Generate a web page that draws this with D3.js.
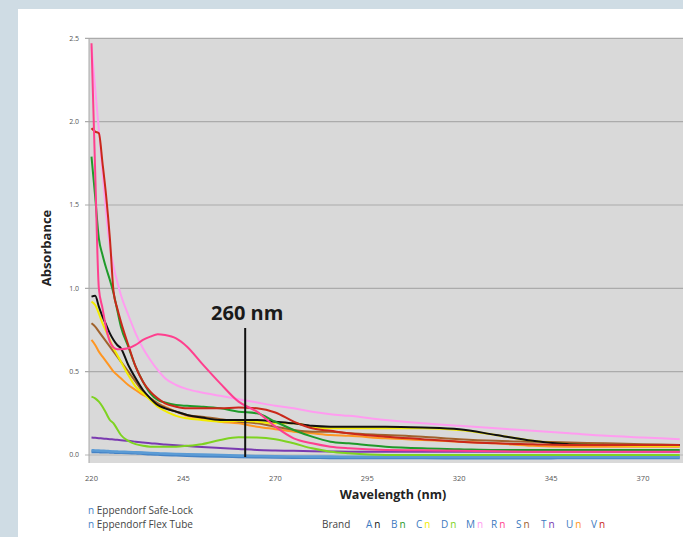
<!DOCTYPE html>
<html><head><meta charset="utf-8">
<script src="https://cdn.jsdelivr.net/npm/d3@7"></script>
<style>
html,body{margin:0;padding:0;background:#cfdce4;}
svg{display:block;}
</style></head>
<body>
<svg id="c" width="683" height="537"></svg>
<script>
// ---- data ----
const wavelengths = [220,221,222,223,224,225,226,227,228,230,232,234,236,238,240,243,246,250,255,260,265,270,275,280,285,290,300,310,320,330,340,350,360,370,380];
const safeLock  = [0.02,0.02,0.019,0.018,0.018,0.017,0.016,0.015,0.015,0.014,0.012,0.009,0.006,0.004,0.002,0.0,-0.003,-0.006,-0.008,-0.01,-0.012,-0.014,-0.015,-0.015,-0.016,-0.016,-0.016,-0.017,-0.018,-0.018,-0.018,-0.017,-0.017,-0.016,-0.016];
const flexTube  = [0.028,0.027,0.026,0.025,0.024,0.022,0.021,0.02,0.019,0.018,0.016,0.014,0.012,0.01,0.008,0.006,0.004,0.002,0.0,-0.004,-0.006,-0.008,-0.009,-0.01,-0.01,-0.011,-0.011,-0.012,-0.012,-0.012,-0.012,-0.012,-0.012,-0.012,-0.012];
const brandA = [0.95,0.955,0.89,0.83,0.78,0.73,0.69,0.66,0.64,0.54,0.46,0.39,0.34,0.3,0.28,0.26,0.24,0.225,0.21,0.21,0.21,0.2,0.19,0.175,0.17,0.17,0.17,0.165,0.155,0.12,0.085,0.065,0.06,0.06,0.06];
const brandB = [1.79,1.55,1.3,1.2,1.12,1.05,0.97,0.87,0.77,0.65,0.53,0.44,0.37,0.33,0.315,0.3,0.295,0.29,0.28,0.26,0.25,0.2,0.15,0.11,0.08,0.07,0.05,0.04,0.035,0.03,0.03,0.03,0.03,0.03,0.03];
const brandC = [0.92,0.9,0.85,0.79,0.74,0.69,0.64,0.6,0.56,0.48,0.41,0.37,0.33,0.29,0.265,0.235,0.22,0.21,0.2,0.205,0.2,0.19,0.19,0.17,0.16,0.16,0.16,0.16,0.15,0.12,0.085,0.065,0.06,0.055,0.055];
const brandD = [0.35,0.34,0.32,0.29,0.25,0.21,0.19,0.155,0.12,0.085,0.065,0.055,0.05,0.05,0.05,0.05,0.055,0.065,0.09,0.106,0.105,0.095,0.07,0.04,0.02,0.01,0.0,0.0,0.0,0.0,0.0,0.0,0.0,0.0,0.0];
const brandM = [2.45,2.2,1.95,1.7,1.45,1.25,1.13,1.04,0.96,0.84,0.73,0.64,0.57,0.51,0.46,0.42,0.395,0.375,0.355,0.335,0.315,0.295,0.28,0.26,0.245,0.235,0.21,0.19,0.175,0.16,0.145,0.13,0.115,0.105,0.095];
const brandR = [2.47,1.7,1.0,0.88,0.76,0.68,0.645,0.635,0.635,0.64,0.66,0.69,0.71,0.725,0.72,0.70,0.65,0.55,0.43,0.32,0.26,0.17,0.10,0.07,0.05,0.04,0.03,0.028,0.025,0.022,0.02,0.02,0.02,0.02,0.02];
const brandS = [0.79,0.77,0.74,0.71,0.68,0.65,0.62,0.59,0.56,0.5,0.44,0.38,0.34,0.31,0.285,0.26,0.24,0.23,0.215,0.2,0.19,0.17,0.15,0.14,0.14,0.13,0.12,0.11,0.095,0.085,0.08,0.075,0.07,0.065,0.06];
const brandT = [0.105,0.103,0.101,0.099,0.097,0.095,0.093,0.091,0.089,0.085,0.08,0.075,0.07,0.067,0.063,0.058,0.054,0.048,0.042,0.036,0.03,0.027,0.025,0.022,0.021,0.02,0.02,0.02,0.02,0.02,0.02,0.02,0.02,0.02,0.02];
const brandU = [0.69,0.66,0.62,0.59,0.56,0.53,0.5,0.48,0.46,0.42,0.39,0.36,0.34,0.31,0.29,0.26,0.235,0.22,0.2,0.19,0.17,0.155,0.14,0.13,0.12,0.115,0.1,0.09,0.08,0.07,0.055,0.05,0.05,0.05,0.05];
const brandV = [1.96,1.94,1.93,1.75,1.55,1.3,0.98,0.88,0.8,0.66,0.53,0.44,0.38,0.34,0.31,0.29,0.28,0.28,0.28,0.285,0.28,0.255,0.2,0.16,0.145,0.13,0.11,0.095,0.08,0.07,0.065,0.06,0.06,0.06,0.06];

const xTicks = [220,245,270,295,320,345,370];
const yTicks = [0,0.5,1.0,1.5,2.0,2.5];
const brandNames = ["A","B","C","D","M","R","S","T","U","V"];
const brandColors = ["#111111","#1f9a2a","#f2ec00","#7ed321","#ff9cf0","#ff3f8e","#a0622d","#7a3ab0","#ff9622","#c9281a"];
const eppNames = ["Eppendorf Safe-Lock","Eppendorf Flex Tube"];
const eppColors = ["#4583c6","#5b9bd5"];
const annotationNm = 261.8;
const annotationText = "260 nm";

// draw order (back to front)
const seriesList = [
  {v:safeLock, c:eppColors[0], w:3},
  {v:flexTube, c:eppColors[1], w:2.6},
  {v:brandT, c:brandColors[7], w:2},
  {v:brandD, c:brandColors[3], w:2},
  {v:brandU, c:brandColors[8], w:2},
  {v:brandS, c:brandColors[6], w:2},
  {v:brandC, c:brandColors[2], w:2},
  {v:brandA, c:brandColors[0], w:2},
  {v:brandB, c:brandColors[1], w:2},
  {v:brandM, c:brandColors[4], w:2},
  {v:brandV, c:brandColors[9], w:2},
  {v:brandR, c:brandColors[5], w:2}
];

// ---- layout ----
const svg = d3.select("#c");
const FONT = "'Open Sans', 'Noto Sans', sans-serif";
const plotL = 89, plotR = 683, plotT = 38, plotB = 463;

svg.append("rect").attr("x",0).attr("y",0).attr("width",683).attr("height",537).attr("fill","#cfdce4");
svg.append("rect").attr("x",18).attr("y",9).attr("width",665).attr("height",528).attr("fill","#ffffff");

const x = d3.scaleLinear().domain([220,370]).range([91.5,643]);
const y = d3.scaleLinear().domain([0,2.5]).range([455,38.3]);

svg.append("rect").attr("x",plotL).attr("y",plotT).attr("width",plotR-plotL).attr("height",plotB-plotT).attr("fill","#d9d9d9");

// gridlines
svg.append("g").selectAll("line").data(yTicks).join("line")
  .attr("x1",plotL-4).attr("x2",plotR)
  .attr("y1",d=>y(d)).attr("y2",d=>y(d))
  .attr("stroke",d=>d===0?"#b8b8b8":"#ababab").attr("stroke-width",1.2);

// left axis line
svg.append("line").attr("x1",plotL).attr("x2",plotL).attr("y1",plotT).attr("y2",plotB)
  .attr("stroke","#a8a8a8").attr("stroke-width",1);

// y tick labels
svg.append("g").selectAll("text").data(yTicks).join("text")
  .attr("x",79).attr("y",d=>y(d)).attr("dy","0.35em")
  .attr("text-anchor","end").attr("font-family",FONT).attr("font-size",7)
  .attr("fill","#555").text(d=>d3.format(".1f")(d));

// x tick labels
svg.append("g").selectAll("text").data(xTicks).join("text")
  .attr("x",d=>x(d)).attr("y",478).attr("dy","0.35em")
  .attr("text-anchor","middle").attr("font-family",FONT).attr("font-size",7.5)
  .attr("fill","#555").text(d=>d);

// clip
svg.append("clipPath").attr("id","clip").append("rect")
  .attr("x",plotL+1).attr("y",plotT-6).attr("width",plotR-plotL).attr("height",plotB-plotT+6);

const line = d3.line().x((d,i)=>x(wavelengths[i])).y(d=>y(d)).curve(d3.curveMonotoneX);
const gl = svg.append("g").attr("clip-path","url(#clip)");
gl.selectAll("path").data(seriesList).join("path")
  .attr("d",d=>line(d.v)).attr("fill","none")
  .attr("stroke",d=>d.c).attr("stroke-width",d=>d.w)
  .attr("stroke-linejoin","round");

// annotation
svg.append("line").attr("x1",x(annotationNm)).attr("x2",x(annotationNm))
  .attr("y1",328).attr("y2",457).attr("stroke","#111").attr("stroke-width",2);
svg.append("text").attr("x",x(annotationNm)+2).attr("y",320).attr("text-anchor","middle")
  .attr("font-family",FONT).attr("font-weight","bold").attr("font-size",20).attr("fill","#1a1a1a")
  .text(annotationText);

// axis titles
svg.append("text").attr("transform","translate(51,248) rotate(-90)").attr("text-anchor","middle")
  .attr("font-family",FONT).attr("font-weight","bold").attr("font-size",13).attr("fill","#222")
  .text("Absorbance");
svg.append("text").attr("x",393).attr("y",499).attr("text-anchor","middle")
  .attr("font-family",FONT).attr("font-weight","bold").attr("font-size",12.5).attr("fill","#222")
  .text("Wavelength (nm)");

// Eppendorf legend
const eg = svg.append("g");
eppNames.forEach((nm,i)=>{
  const t = eg.append("text").attr("x",88).attr("y",514+i*14)
    .attr("font-family",FONT).attr("font-size",10).attr("fill","#444");
  t.append("tspan").attr("fill",eppColors[0]).text("n");
  t.append("tspan").text(" "+nm);
});

// Brand legend
const bg = svg.append("g");
bg.append("text").attr("x",322).attr("y",528).attr("font-family",FONT).attr("font-size",10)
  .attr("fill","#444").text("Brand");
brandNames.forEach((b,i)=>{
  const t = bg.append("text").attr("x",366+i*25).attr("y",528)
    .attr("font-family",FONT).attr("font-size",10);
  t.append("tspan").attr("fill","#3d7ac0").text(b);
  t.append("tspan").attr("fill",brandColors[i]).attr("dx",2).text("n");
});
</script>
</body></html>
